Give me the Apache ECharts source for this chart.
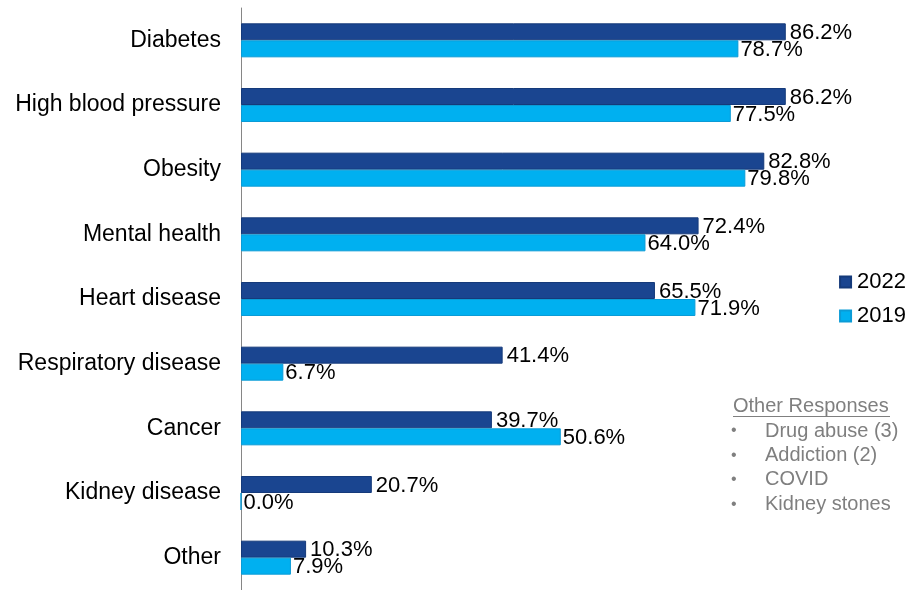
<!DOCTYPE html>
<html><head><meta charset="utf-8">
<script src="https://cdn.jsdelivr.net/npm/echarts@6/dist/echarts.min.js"></script>
<style>html,body{margin:0;padding:0;background:#fff}#c{width:914px;height:590px}</style>
</head><body><div id="c"></div>
<script>
const categories = ["Diabetes","High blood pressure","Obesity","Mental health","Heart disease","Respiratory disease","Cancer","Kidney disease","Other"];
const values2022 = [86.2,86.2,82.8,72.4,65.5,41.4,39.7,20.7,10.3];
const values2019 = [78.7,77.5,79.8,64.0,71.9,6.7,50.6,0.0,7.9];
const otherTitle = "Other Responses";
const otherItems = ["Drug abuse (3)","Addiction (2)","COVID","Kidney stones"];

const chart = echarts.init(document.getElementById('c'));
const font = 'Liberation Sans, Arial, sans-serif';
const grey = '#7f7f7f';
const graphics = [
  {type:'text', x:733, y:406, style:{text:otherTitle, fill:grey, font:'20px ' + font, verticalAlign:'middle'}},
  {type:'line', shape:{x1:733,y1:416.5,x2:890,y2:416.5}, style:{stroke:grey, lineWidth:1}}
];
otherItems.forEach((t,i)=>{
  const y = 431 + i*24.4;
  graphics.push({type:'text', x:731, y:y, style:{text:'•', fill:grey, font:'16px ' + font, verticalAlign:'middle'}});
  graphics.push({type:'text', x:765, y:y, style:{text:t, fill:grey, font:'20px ' + font, verticalAlign:'middle'}});
});
chart.setOption({
  animation:false,
  textStyle:{fontFamily:font},
  grid:{left:241, top:8, width:632, height:586, containLabel:false},
  legend:{
    orient:'vertical', right:3, top:266, icon:'rect', itemWidth:11, itemHeight:11, itemGap:12,
    textStyle:{fontSize:22, color:'#000', fontFamily:font, padding:[0,0,0,1]},
    data:['2022','2019']
  },
  xAxis:{type:'value', min:0, max:100, show:false},
  yAxis:{type:'category', data:categories, inverse:true,
    axisLine:{lineStyle:{color:'#868686', width:1}}, axisTick:{show:false},
    axisLabel:{fontSize:23, color:'#000', margin:20, fontFamily:font}},
  series:[
    {name:'2022', type:'bar', data:values2022, barWidth:17, barGap:'0%',
     itemStyle:{color:'#1a4590', borderColor:'#153a7a', borderWidth:1},
     label:{show:true, position:'right', distance:4, offset:[0,1], fontSize:22, color:'#000', fontFamily:font,
       formatter:p=>p.value.toFixed(1)+'%'}},
    {name:'2019', type:'bar', data:values2019, barWidth:17, barGap:'0%',
     itemStyle:{color:'#00b0f0', borderColor:'#0a9bd6', borderWidth:1},
     label:{show:true, position:'right', distance:2, offset:[0,1], fontSize:22, color:'#000', fontFamily:font,
       formatter:p=>p.value.toFixed(1)+'%'}}
  ],
  graphic:graphics
});
</script></body></html>
